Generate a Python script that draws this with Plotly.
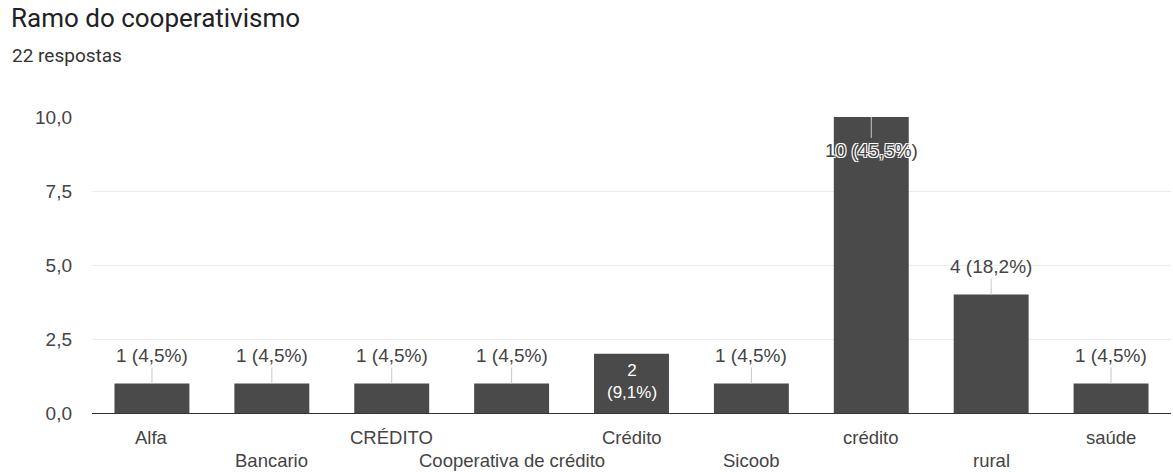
import plotly.graph_objects as go

# Responses per branch of cooperativism
categories = ["Alfa", "Bancario", "CRÉDITO", "Cooperativa de crédito", "Crédito",
              "Sicoob", "crédito", "rural", "saúde"]
counts = [1, 1, 1, 1, 2, 1, 10, 4, 1]
total = 22
y_ticks = [0, 2.5, 5, 7.5, 10]

W, H = 1173, 472
L, R, T, B = 91.5, 1.5, 117, 59
plot_w = W - L - R

BAR = "#4a4a4a"
TXT = "#444444"
FONT = "Arial, Liberation Sans, sans-serif"
FS = 19


def fmt_label(n):
    pct = f"{n / total * 100:.1f}".replace(".", ",")
    return f"{n} ({pct}%)"


fig = go.Figure(go.Bar(
    x=categories, y=counts, marker=dict(color=BAR, line=dict(width=0)),
    hoverinfo="skip",
))

annotations = []
ymax = max(counts)
for i, (c, n) in enumerate(zip(categories, counts)):
    label = fmt_label(n)
    if n == ymax:
        # label pushed inside the tallest bar, outlined so it stays readable
        annotations.append(dict(
            x=c, y=n, text=label, showarrow=True, arrowhead=0, arrowwidth=1,
            arrowcolor="#c8c8c8", ax=0, ay=33, standoff=0,
            font=dict(size=FS, color=TXT, family=FONT,
                      shadow="-1px -1px 0 #fff, 1px -1px 0 #fff, -1px 1px 0 #fff, 1px 1px 0 #fff"),
        ))
    elif n == 2:
        annotations.append(dict(
            x=c, y=n, text=label.replace(" ", "<br>"), showarrow=False,
            yanchor="top", yshift=-5,
            font=dict(size=17, color="#ffffff", family=FONT),
        ))
    else:
        annotations.append(dict(
            x=c, y=n, text=label, showarrow=True, arrowhead=0, arrowwidth=1,
            arrowcolor="#c8c8c8", ax=0, ay=-28, standoff=0,
            font=dict(size=FS, color=TXT, family=FONT),
        ))
    # category labels staggered on two rows
    annotations.append(dict(
        x=c, y=0, yref="y", text=c, showarrow=False, yanchor="middle",
        yshift=-24 if i % 2 == 0 else -47,
        font=dict(size=18.5, color=TXT, family=FONT),
    ))

annotations.append(dict(
    xref="paper", yref="paper", x=(9 - L) / plot_w, y=1 + (T - 55) / (H - T - B),
    xanchor="left", yanchor="middle", showarrow=False, text="22 respostas",
    font=dict(size=19, color="#333333", family="Roboto, Arial, sans-serif"),
))

fig.update_layout(
    width=W, height=H,
    margin=dict(l=L, r=R, t=T, b=B, pad=0),
    paper_bgcolor="#ffffff", plot_bgcolor="#ffffff",
    separators=",.",
    bargap=0.375,
    showlegend=False,
    title=dict(
        text="Ramo do cooperativismo", xref="container", yref="container",
        x=11 / W, xanchor="left", y=1 - 18 / H, yanchor="middle",
        font=dict(size=26, color="#202124", family="Roboto, Arial, sans-serif"),
    ),
    xaxis=dict(
        showticklabels=False, showgrid=False, ticks="",
        showline=True, linecolor="#333333", linewidth=1,
        fixedrange=True,
    ),
    yaxis=dict(
        range=[0, 10], tickvals=y_ticks, tickformat=".1f",
        showgrid=True, gridcolor="#ebebeb", gridwidth=1,
        zeroline=False, showline=False, ticks="", ticklabelstandoff=19,
        tickfont=dict(size=FS, color=TXT, family=FONT),
        fixedrange=True,
    ),
    annotations=annotations,
)

fig.write_html("out.html")
